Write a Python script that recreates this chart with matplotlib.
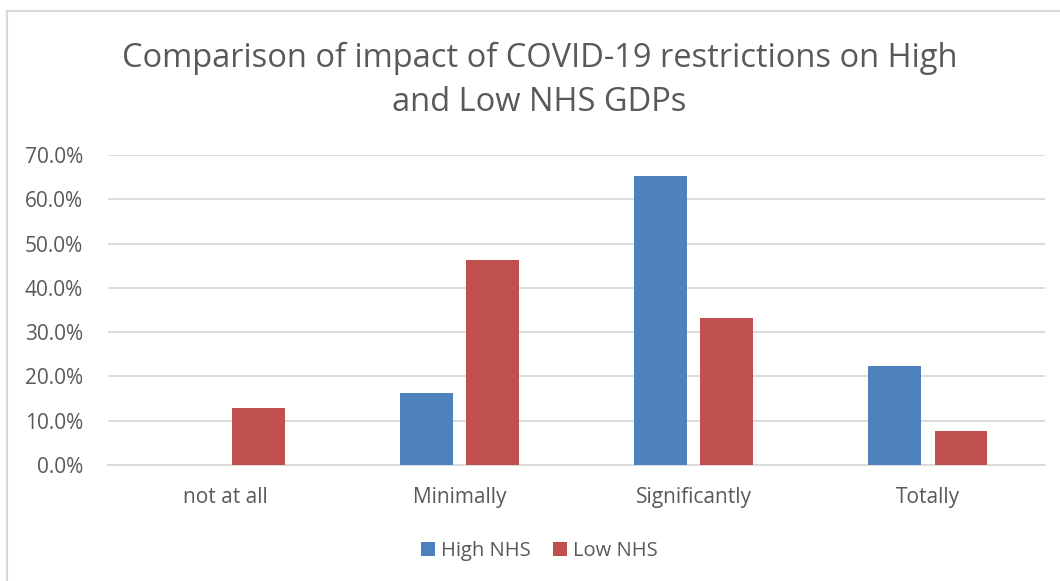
import numpy as np
import matplotlib.pyplot as plt
from matplotlib.lines import Line2D
from matplotlib.ticker import FuncFormatter

# Chart data (percent)
categories = ['not at all', 'Minimally', 'Significantly', 'Totally']
high_nhs = [0.0, 16.2, 65.2, 22.3]
low_nhs = [12.8, 46.2, 33.2, 7.6]
series_names = ['High NHS', 'Low NHS']

blue = '#4F81BD'
red = '#C0504D'
text_col = '#595959'
grid_col = '#D9D9D9'

plt.rcParams['font.family'] = ['Open Sans', 'DejaVu Sans']

fig = plt.figure(figsize=(10.6, 5.81), dpi=100)

# chart frame (only top and left edges are visible in the crop)
fy = 1 - 11 / 581
fx = 7 / 1060
fig.lines.append(Line2D([fx, 1], [fy, fy], transform=fig.transFigure, color=grid_col, lw=1.5))
fig.lines.append(Line2D([fx, fx], [0, fy], transform=fig.transFigure, color=grid_col, lw=1.5))

ax = fig.add_axes([108 / 1060, 1 - 465 / 581, 937 / 1060, 310 / 581])

x = np.arange(len(categories))
w = 0.225
off = 0.141
ax.bar(x - off, high_nhs, w, color=blue, label=series_names[0], zorder=3)
ax.bar(x + off, low_nhs, w, color=red, label=series_names[1], zorder=3)

ax.set_xlim(-0.5, len(categories) - 0.5)
ax.set_ylim(0, 70)
ax.set_yticks(np.arange(0, 71, 10))
ax.yaxis.set_major_formatter(FuncFormatter(lambda v, p: f'{v:.1f}%'))
ax.set_xticks(x)
ax.set_xticklabels(categories)
ax.grid(axis='y', color=grid_col, lw=1.3, zorder=0)
for s in ['top', 'right', 'left']:
    ax.spines[s].set_visible(False)
ax.spines['bottom'].set_color(grid_col)
ax.spines['bottom'].set_linewidth(1.3)
ax.tick_params(axis='both', length=0, labelsize=15, labelcolor=text_col)
ax.tick_params(axis='y', pad=18)
ax.tick_params(axis='x', pad=16)

fig.text(0.509, 0.862, 'Comparison of impact of COVID-19 restrictions on High\nand Low NHS GDPs',
         ha='center', va='center', fontsize=23.5, color=text_col, linespacing=1.45)

fig.legend(loc='center', bbox_to_anchor=(0.509, 1 - 551 / 581), ncol=2, frameon=False,
           fontsize=14.5, handlelength=0.7, handleheight=0.7, handletextpad=0.3,
           columnspacing=1.1, labelcolor=text_col)

fig.savefig('out.png', dpi=100)
